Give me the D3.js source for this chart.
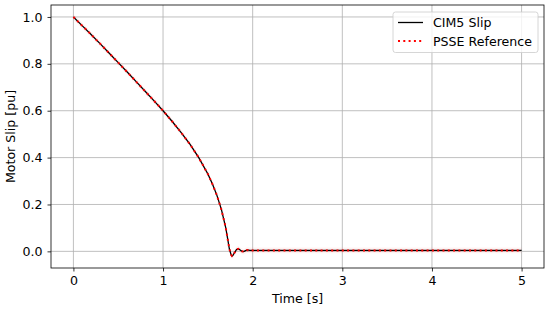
<!DOCTYPE html>
<html>
<head>
<meta charset="utf-8">
<script src="https://cdn.jsdelivr.net/npm/d3@7"></script>
<style>
  body { margin: 0; background: #fff; }
  text { font-family: "DejaVu Sans", sans-serif; }
</style>
</head>
<body>
<div id="chart"></div>
<script>
// Time samples [s] and slip values [pu]
const times = [0, 0.1, 0.2, 0.3, 0.4, 0.5, 0.6, 0.7, 0.8, 0.9, 1.0, 1.1, 1.2, 1.3, 1.4, 1.5, 1.55, 1.6, 1.65, 1.7, 1.72, 1.74, 1.76, 1.77, 1.78, 1.8, 1.82, 1.84, 1.86, 1.88, 1.9, 1.92, 1.94, 1.97, 2.0, 2.5, 3.0, 3.5, 4.0, 4.5, 5.0];
const cimSlip = [1.0, 0.962, 0.924, 0.885, 0.845, 0.805, 0.765, 0.724, 0.683, 0.642, 0.600, 0.555, 0.508, 0.457, 0.399, 0.330, 0.288, 0.240, 0.180, 0.100, 0.055, 0.010, -0.015, -0.020, -0.017, -0.004, 0.008, 0.011, 0.006, 0.000, -0.001, 0.003, 0.006, 0.004, 0.004, 0.004, 0.004, 0.004, 0.004, 0.004, 0.004];
const psseSlip = [1.0, 0.962, 0.924, 0.885, 0.845, 0.805, 0.765, 0.724, 0.683, 0.642, 0.600, 0.555, 0.508, 0.457, 0.399, 0.330, 0.288, 0.240, 0.180, 0.100, 0.055, 0.010, -0.015, -0.020, -0.017, -0.004, 0.008, 0.011, 0.006, 0.000, -0.001, 0.003, 0.006, 0.004, 0.004, 0.004, 0.004, 0.004, 0.004, 0.004, 0.004];
const xTicks = [0, 1, 2, 3, 4, 5];
const yTicks = [0.0, 0.2, 0.4, 0.6, 0.8, 1.0];
const seriesNames = ["CIM5 Slip", "PSSE Reference"];

const cimData = times.map((t, i) => ({t: t, v: cimSlip[i]}));
const psseData = times.map((t, i) => ({t: t, v: psseSlip[i]}));

const W = 550, H = 309;
const margin = {top: 5, right: 6, bottom: 41, left: 51};
const width = W - margin.left - margin.right;
const height = H - margin.top - margin.bottom;
const fs = "12.6px";

const svg = d3.select("#chart").append("svg")
    .attr("width", W)
    .attr("height", H);

const g = svg.append("g")
    .attr("transform", `translate(${margin.left},${margin.top})`);

const x = d3.scaleLinear().domain([-0.25, 5.25]).range([0, width]);
const y = d3.scaleLinear().domain([-0.071, 1.051]).range([height, 0]);

// Grid
g.append("g").selectAll("line").data(xTicks).join("line")
    .attr("x1", d => x(d)).attr("x2", d => x(d))
    .attr("y1", 0).attr("y2", height)
    .attr("stroke", "#b0b0b0").attr("stroke-width", 0.8);
g.append("g").selectAll("line").data(yTicks).join("line")
    .attr("y1", d => y(d)).attr("y2", d => y(d))
    .attr("x1", 0).attr("x2", width)
    .attr("stroke", "#b0b0b0").attr("stroke-width", 0.8);

// Faint band around the reference
const band = d3.area()
    .x(d => x(d.t))
    .y0(d => y(d.v - 0.012))
    .y1(d => y(d.v + 0.012));
g.append("path")
    .datum(psseData)
    .attr("d", band)
    .attr("fill", "#ff0000")
    .attr("opacity", 0.05);

const line = d3.line()
    .x(d => x(d.t))
    .y(d => y(d.v));

g.append("path")
    .datum(cimData)
    .attr("d", line)
    .attr("fill", "none")
    .attr("stroke", "#000")
    .attr("stroke-width", 1.3);

g.append("path")
    .datum(psseData)
    .attr("d", line)
    .attr("fill", "none")
    .attr("stroke", "#ff0000")
    .attr("stroke-width", 2)
    .attr("stroke-dasharray", "2,3.3");

// Axes
const xAxis = g.append("g")
    .attr("transform", `translate(0,${height})`)
    .call(d3.axisBottom(x).tickValues(xTicks).tickSize(3.5).tickPadding(5).tickFormat(d3.format("d")));
const yAxis = g.append("g")
    .call(d3.axisLeft(y).tickValues(yTicks).tickSize(3.5).tickPadding(5).tickFormat(d3.format(".1f")));
[xAxis, yAxis].forEach(a => {
    a.select(".domain").remove();
    a.selectAll("line").attr("stroke", "#000").attr("stroke-width", 0.8);
    a.selectAll("text").attr("font-size", fs).attr("fill", "#000")
        .attr("font-family", "DejaVu Sans, sans-serif");
});

// Frame
g.append("rect")
    .attr("width", width).attr("height", height)
    .attr("fill", "none").attr("stroke", "#000").attr("stroke-width", 0.8);

// Axis labels
svg.append("text")
    .attr("x", margin.left + width / 2)
    .attr("y", 302.5)
    .attr("text-anchor", "middle")
    .attr("font-size", fs)
    .text("Time [s]");

svg.append("text")
    .attr("transform", `translate(15,${margin.top + height / 2}) rotate(-90)`)
    .attr("text-anchor", "middle")
    .attr("font-size", fs)
    .text("Motor Slip [pu]");

// Legend
const legend = svg.append("g").attr("transform", "translate(393,12)");
legend.append("rect")
    .attr("width", 145).attr("height", 40.5)
    .attr("rx", 2.5)
    .attr("fill", "#fff").attr("fill-opacity", 0.8)
    .attr("stroke", "#cccccc").attr("stroke-width", 0.8);
const styles = [
    {stroke: "#000", w: 1.3, dash: null},
    {stroke: "#ff0000", w: 2, dash: "2,3.3"}
];
seriesNames.forEach((name, i) => {
    const yy = 10.5 + i * 18.5;
    legend.append("line")
        .attr("x1", 5).attr("x2", 30)
        .attr("y1", yy).attr("y2", yy)
        .attr("stroke", styles[i].stroke)
        .attr("stroke-width", styles[i].w)
        .attr("stroke-dasharray", styles[i].dash);
    legend.append("text")
        .attr("x", 40).attr("y", yy)
        .attr("dy", "0.36em")
        .attr("font-size", fs)
        .text(name);
});
</script>
</body>
</html>
